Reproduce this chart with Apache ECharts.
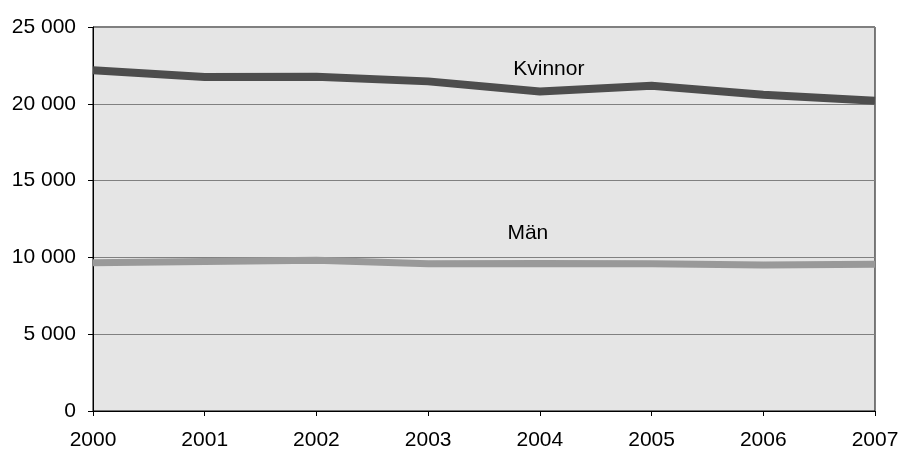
<!DOCTYPE html>
<html>
<head>
<meta charset="utf-8">
<script src="https://cdn.jsdelivr.net/npm/echarts@6/dist/echarts.min.js"></script>
<style>
  html, body { margin: 0; padding: 0; background: #fff; }
  #main { width: 901px; height: 450px; }
</style>
</head>
<body>
<div id="main"></div>
<script>
// data
const years = ["2000", "2001", "2002", "2003", "2004", "2005", "2006", "2007"];
const kvinnor = [22180, 21750, 21760, 21460, 20800, 21170, 20590, 20200];
const man = [9650, 9740, 9820, 9590, 9610, 9590, 9500, 9550];
const yTicks = [0, 5000, 10000, 15000, 20000, 25000];

const fmt = v => String(v).replace(/\B(?=(\d{3})+(?!\d))/g, " ");

const chart = echarts.init(document.getElementById("main"));
const option = {
  animation: false,
  textStyle: { fontFamily: "Liberation Sans, Arial, sans-serif" },
  grid: {
    left: 93, right: 26, top: 27, bottom: 39,
    outerBoundsMode: "none",
    show: true, backgroundColor: "#e5e5e5", borderColor: "#000", borderWidth: 1
  },
  xAxis: {
    type: "category",
    data: years,
    boundaryGap: false,
    axisLine: { lineStyle: { color: "#000", width: 1 } },
    axisTick: { show: true, alignWithLabel: true, length: 5, lineStyle: { color: "#000" } },
    axisLabel: { color: "#000", fontSize: 21, margin: 19 },
    splitLine: { show: false }
  },
  yAxis: {
    type: "value",
    min: yTicks[0],
    max: yTicks[yTicks.length - 1],
    interval: 5000,
    axisLine: { show: true, lineStyle: { color: "#000", width: 1 } },
    axisTick: { show: true, length: 5, lineStyle: { color: "#000" } },
    axisLabel: { color: "#000", fontSize: 21, margin: 17, formatter: fmt },
    splitLine: { show: true, lineStyle: { color: "#808080", width: 1 } }
  },
  series: [
    {
      name: "Kvinnor",
      type: "line",
      data: kvinnor,
      symbol: "none",
      lineStyle: { color: "#4d4d4d", width: 8 },
      markPoint: {
        symbol: "circle", symbolSize: 0,
        label: { show: true, formatter: "Kvinnor", color: "#000", fontSize: 21, offset: [9, 0] },
        data: [{ coord: ["2004", 22250] }]
      }
    },
    {
      name: "Män",
      type: "line",
      data: man,
      symbol: "none",
      lineStyle: { color: "#999999", width: 7 },
      markPoint: {
        symbol: "circle", symbolSize: 0,
        label: { show: true, formatter: "Män", color: "#000", fontSize: 21, offset: [-12, 0] },
        data: [{ coord: ["2004", 11600] }]
      }
    }
  ]
};
chart.setOption(option);
</script>
</body>
</html>
